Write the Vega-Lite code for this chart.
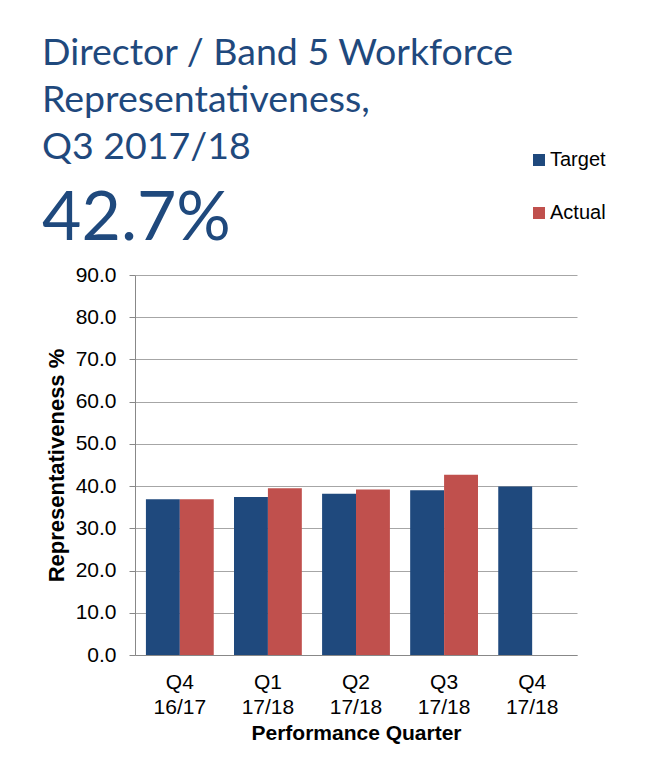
{
  "$schema": "https://vega.github.io/schema/vega-lite/v6.json",
  "autosize": {"type": "none"},
  "padding": {"left": 135, "top": 275, "right": 82, "bottom": 105},
  "width": 442,
  "height": 380,
  "background": "white",
  "title": {
    "text": ["Director / Band 5 Workforce", "Representativeness,", "Q3 2017/18"],
    "subtitle": "42.7%",
    "anchor": "start",
    "frame": "group",
    "dx": -93,
    "offset": -104,
    "font": "Lato",
    "fontSize": 37.5,
    "fontWeight": "normal",
    "color": "#1F497D",
    "lineHeight": 47,
    "subtitleFont": "Lato",
    "subtitleFontSize": 68,
    "subtitleColor": "#1F497D",
    "subtitlePadding": 20
  },
  "data": {
    "values": [
      {"quarter": "Q4 16/17", "series": "Target", "value": 36.9},
      {"quarter": "Q4 16/17", "series": "Actual", "value": 36.9},
      {"quarter": "Q1 17/18", "series": "Target", "value": 37.4},
      {"quarter": "Q1 17/18", "series": "Actual", "value": 39.5},
      {"quarter": "Q2 17/18", "series": "Target", "value": 38.2},
      {"quarter": "Q2 17/18", "series": "Actual", "value": 39.2},
      {"quarter": "Q3 17/18", "series": "Target", "value": 39.0},
      {"quarter": "Q3 17/18", "series": "Actual", "value": 42.7},
      {"quarter": "Q4 17/18", "series": "Target", "value": 39.9}
    ]
  },
  "mark": {"type": "bar"},
  "encoding": {
    "x": {
      "field": "quarter",
      "type": "nominal",
      "sort": ["Q4 16/17", "Q1 17/18", "Q2 17/18", "Q3 17/18", "Q4 17/18"],
      "scale": {"paddingInner": 0.23, "paddingOuter": 0.124},
      "axis": {
        "title": "Performance Quarter",
        "labelAngle": 0,
        "labelExpr": "split(datum.label, ' ')",
        "labelLineHeight": 25,
        "labelFont": "Liberation Sans",
        "labelFontSize": 21,
        "labelColor": "#000000",
        "labelPadding": 16,
        "ticks": false,
        "domainColor": "#888888",
        "titleFont": "Liberation Sans",
        "titleFontSize": 21,
        "titleFontWeight": "bold",
        "titleColor": "#000000",
        "titlePadding": 5
      }
    },
    "xOffset": {
      "field": "series",
      "type": "nominal",
      "sort": ["Target", "Actual"],
      "scale": {"paddingInner": 0, "paddingOuter": 0}
    },
    "y": {
      "field": "value",
      "type": "quantitative",
      "scale": {"domain": [0, 90], "nice": false},
      "axis": {
        "title": "Representativeness %",
        "values": [0, 10, 20, 30, 40, 50, 60, 70, 80, 90],
        "format": ".1f",
        "labelFont": "Liberation Sans",
        "labelFontSize": 21,
        "labelColor": "#000000",
        "labelPadding": 13,
        "tickSize": 6,
        "tickColor": "#888888",
        "domainColor": "#888888",
        "gridColor": "#a6a6a6",
        "titleFont": "Liberation Sans",
        "titleFontSize": 22,
        "titleFontWeight": "bold",
        "titleColor": "#000000",
        "titlePadding": 7
      }
    },
    "color": {
      "field": "series",
      "type": "nominal",
      "scale": {"domain": ["Target", "Actual"], "range": ["#1F497D", "#C0504D"]},
      "legend": {
        "title": null,
        "orient": "none",
        "legendX": 394,
        "legendY": -125,
        "padding": 0,
        "symbolType": "square",
        "symbolSize": 144,
        "symbolStrokeWidth": 0,
        "symbolOpacity": 1,
        "labelFont": "Liberation Sans",
        "labelFontSize": 20,
        "labelColor": "#000000",
        "labelOffset": 1,
        "rowPadding": 33
      }
    }
  },
  "config": {"view": {"stroke": null}}
}
